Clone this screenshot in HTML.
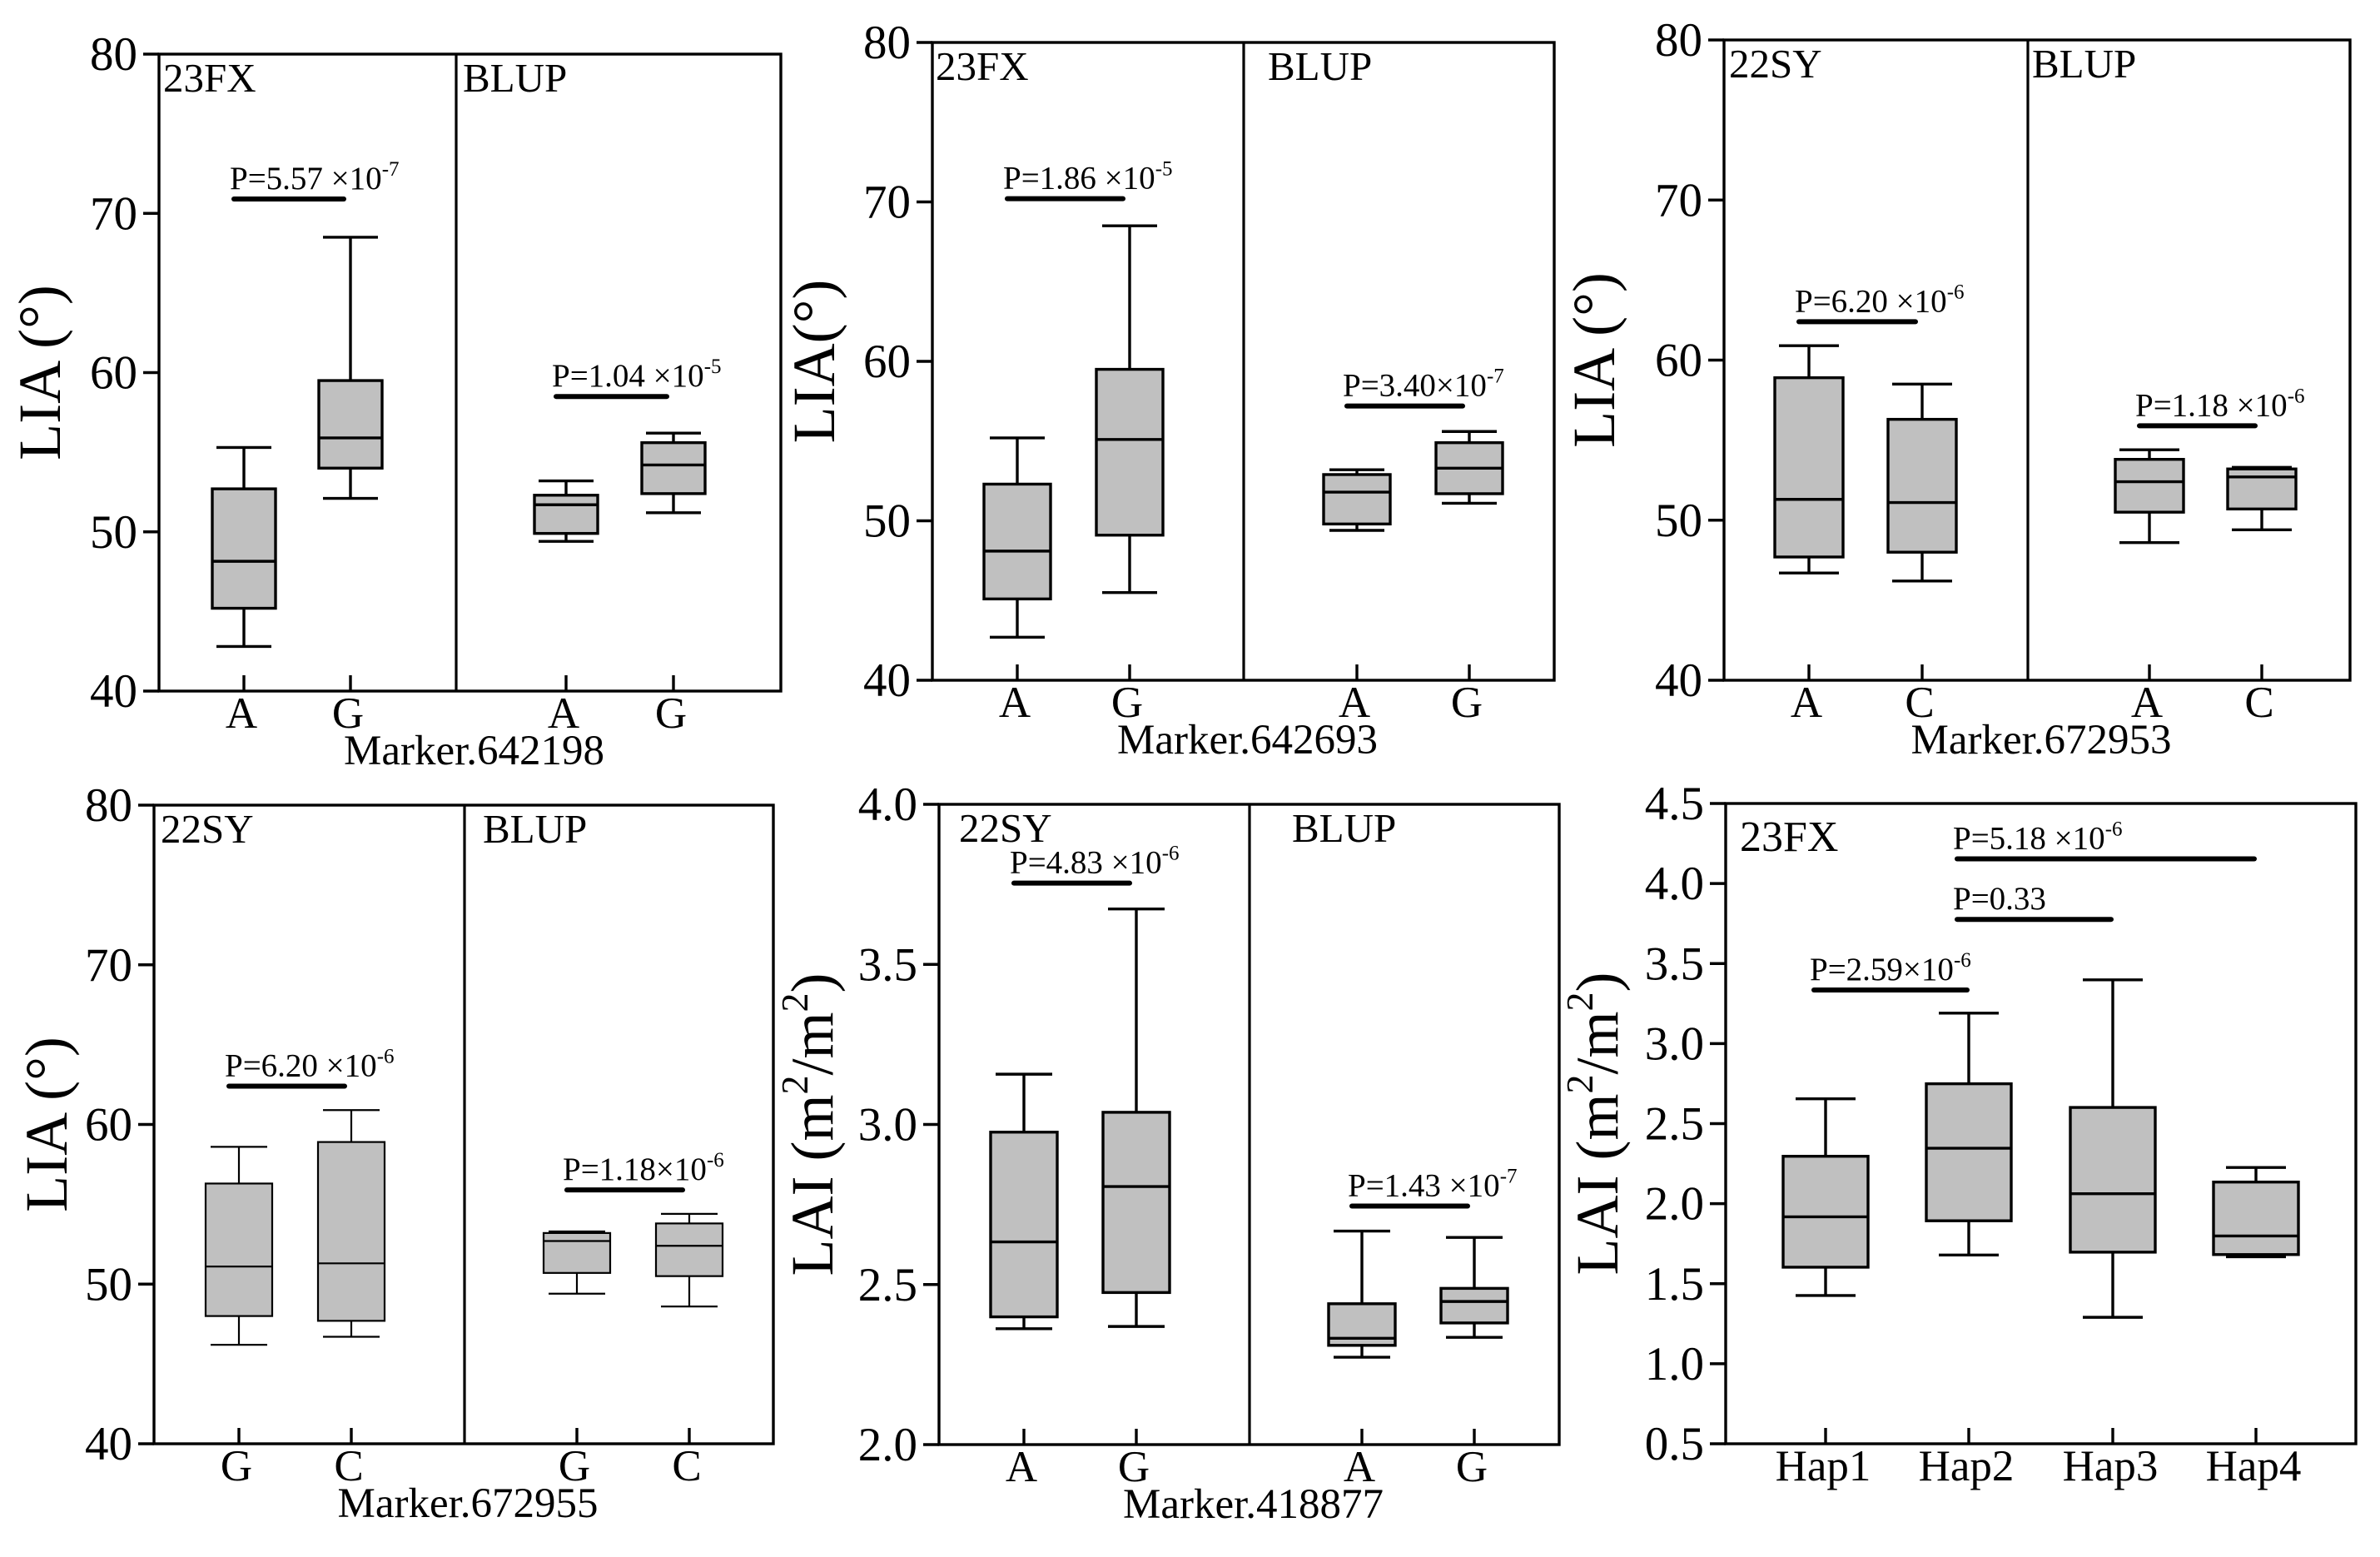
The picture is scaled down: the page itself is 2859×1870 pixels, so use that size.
<!DOCTYPE html>
<html><head><meta charset="utf-8"><style>
html,body{margin:0;padding:0;background:#fff;}
svg{display:block;font-family:"Liberation Serif","Times New Roman",serif;}
</style></head><body>
<svg id="fig" xmlns="http://www.w3.org/2000/svg" width="2859" height="1870" viewBox="0 0 2859 1870"></svg>
<script>
// ---------- data ----------
const p1Cats = ['A','G','A','G'];
const p1Box = [[42.8,45.2,48.15,52.7,55.3],[52.1,54.0,55.9,59.5,68.5],[49.4,49.9,51.7,52.3,53.2],[51.2,52.4,54.2,55.6,56.2]];
const p1PVal = [70.9,58.5];
const p1PText = [['P=5.57 ×10','-7'],['P=1.04 ×10','-5']];

const p2Cats = ['A','G','A','G'];
const p2Box = [[42.7,45.1,48.1,52.3,55.2],[45.5,49.1,55.1,59.5,68.5],[49.4,49.8,51.8,52.9,53.2],[51.1,51.7,53.3,54.9,55.6]];
const p2PVal = [70.2,57.2];
const p2PText = [['P=1.86 ×10','-5'],['P=3.40×10','-7']];

const p3Cats = ['A','C','A','C'];
const p3Box = [[46.7,47.7,51.3,58.9,60.9],[46.2,48.0,51.1,56.3,58.5],[48.6,50.5,52.4,53.8,54.4],[49.4,50.7,52.7,53.2,53.3]];
const p3PVal = [62.4,55.9];
const p3PText = [['P=6.20 ×10','-6'],['P=1.18 ×10','-6']];

const p4Cats = ['G','C','G','C'];
const p4Box = [[46.2,48.0,51.1,56.3,58.6],[46.7,47.7,51.3,58.9,60.9],[49.4,50.7,52.7,53.2,53.3],[48.6,50.5,52.4,53.8,54.4]];
const p4PVal = [62.4,55.9];
const p4PText = [['P=6.20 ×10','-6'],['P=1.18×10','-6']];

const p5Cats = ['A','G','A','G'];
const p5Box = [[2.362,2.399,2.633,2.976,3.157],[2.369,2.475,2.806,3.038,3.673],[2.273,2.31,2.332,2.44,2.667],[2.335,2.38,2.447,2.488,2.647]];
const p5PVal = [3.754,2.745];
const p5PText = [['P=4.83 ×10','-6'],['P=1.43 ×10','-7']];

const p6Cats = ['Hap1','Hap2','Hap3','Hap4'];
const p6Box = [[1.426,1.603,1.918,2.296,2.655],[1.679,1.893,2.346,2.749,3.19],[1.290,1.697,2.062,2.601,3.398],[1.668,1.682,1.798,2.135,2.226]];
const p6PVal = [3.335,3.776,4.154];
const p6PText = [['P=2.59×10','-6'],['P=0.33',''],['P=5.18 ×10','-6']];

const liaTicks = ['40','50','60','70','80'];
const laiTicks5 = ['2.0','2.5','3.0','3.5','4.0'];
const laiTicks6 = ['0.5','1.0','1.5','2.0','2.5','3.0','3.5','4.0','4.5'];

// ---------- layout ----------
const NS='http://www.w3.org/2000/svg';
const svg=document.getElementById('fig');
function mk(tag,attrs,parent){const e=document.createElementNS(NS,tag);for(const k in attrs)e.setAttribute(k,attrs[k]);(parent||svg).appendChild(e);return e;}

const panels=[
 {id:'p1',L:191,R:938,T:65,B:830,div:548,ymin:40,ymax:80,ticks:liaTicks,cats:p1Cats,box:p1Box,cx:[293,421,680,809],bw:38,cw:33,
  pv:p1PVal,pt:p1PText,pl:[[0,1],[2,3]],lab:['23FX','BLUP'],labx:[196,556],ylab:'LIA (°)',ylx:72,xlab:'Marker.642198',thin:false},
 {id:'p2',L:1120,R:1867,T:51,B:817,div:1494,ymin:40,ymax:80,ticks:liaTicks,cats:p2Cats,box:p2Box,cx:[1222,1357,1630,1765],bw:40,cw:33,
  pv:p2PVal,pt:p2PText,pl:[[0,1],[2,3]],lab:['23FX','BLUP'],labx:[1124,1523],ylab:'LIA(°)',ylx:1002,xlab:'Marker.642693',thin:false},
 {id:'p3',L:2071,R:2823,T:48,B:817,div:2436,ymin:40,ymax:80,ticks:liaTicks,cats:p3Cats,box:p3Box,cx:[2173,2309,2582,2717],bw:41,cw:36,
  pv:p3PVal,pt:p3PText,pl:[[0,1],[2,3]],lab:['22SY','BLUP'],labx:[2077,2441],ylab:'LIA (°)',ylx:1939,xlab:'Marker.672953',thin:false},
 {id:'p4',L:185,R:929,T:967,B:1734,div:558,ymin:40,ymax:80,ticks:liaTicks,cats:p4Cats,box:p4Box,cx:[287,422,693,828],bw:40,cw:34,
  pv:p4PVal,pt:p4PText,pl:[[0,1],[2,3]],lab:['22SY','BLUP'],labx:[193,580],ylab:'LIA (°)',ylx:80,xlab:'Marker.672955',thin:true},
 {id:'p5',L:1128,R:1873,T:966,B:1735,div:1501,ymin:2,ymax:4,ticks:laiTicks5,cats:p5Cats,box:p5Box,cx:[1230,1365,1636,1771],bw:40,cw:34,
  pv:p5PVal,pt:p5PText,pl:[[0,1],[2,3]],lab:['22SY','BLUP'],labx:[1152,1552],ylab:'LAI',ylx:1000,xlab:'Marker.418877',thin:false},
 {id:'p6',L:2073,R:2830,T:965,B:1734,div:null,ymin:0.5,ymax:4.5,ticks:laiTicks6,cats:p6Cats,box:p6Box,cx:[2193,2365,2538,2710],bw:51,cw:36,
  pv:p6PVal,pt:p6PText,pl:[[0,1],[1,2],[1,3]],lab:['23FX'],labx:[2090],ylab:'LAI',ylx:1943,xlab:'',thin:false}
];

panels.forEach(p=>{
  const g=mk('g',{});
  
  
  const y=v=>p.B-(v-p.ymin)/(p.ymax-p.ymin)*(p.B-p.T);
  const sw=p.thin?2.2:3.4;
  p.box.forEach((b,i)=>{
    const x=p.cx[i];
    const bg=mk('g',{},g);
    
    
    const st={stroke:'#000','stroke-width':sw};
    mk('line',Object.assign({x1:x,x2:x,y1:y(b[0]),y2:y(b[1])},st),bg);
    mk('line',Object.assign({x1:x,x2:x,y1:y(b[3]),y2:y(b[4])},st),bg);
    mk('line',Object.assign({x1:x-p.cw,x2:x+p.cw,y1:y(b[0]),y2:y(b[0])},st),bg);
    mk('line',Object.assign({x1:x-p.cw,x2:x+p.cw,y1:y(b[4]),y2:y(b[4])},st),bg);
    mk('rect',{x:x-p.bw,y:y(b[3]),width:2*p.bw,height:y(b[1])-y(b[3]),fill:'#c0c0c0',stroke:'#000','stroke-width':sw},bg);
    mk('line',Object.assign({x1:x-p.bw,x2:x+p.bw,y1:y(b[2]),y2:y(b[2])},st),bg);
  });
  const fr=mk('rect',{x:p.L,y:p.T,width:p.R-p.L,height:p.B-p.T,fill:'none',stroke:'#000','stroke-width':3.4},g);
  
  
  if(p.div!==null){
    const dv=mk('line',{x1:p.div,x2:p.div,y1:p.T,y2:p.B,stroke:'#000','stroke-width':3.2},g);
    
    
  }
  p.ticks.forEach((t,i)=>{
    const v=p.ymin+i*(p.ymax-p.ymin)/(p.ticks.length-1);
    const yy=y(v);
    mk('line',{x1:p.L-19,x2:p.L,y1:yy,y2:yy,stroke:'#000','stroke-width':3.4},g);
    const tx=mk('text',{x:p.L-26,y:yy+19,'text-anchor':'end','font-size':57},g);
    
    
    tx.textContent=t;
  });
  p.cats.forEach((c,i)=>{
    const x=p.cx[i];
    mk('line',{x1:x,x2:x,y1:p.B-19,y2:p.B,stroke:'#000','stroke-width':3.4},g);
    const tx=mk('text',{x:x-3,y:p.B+44,'text-anchor':'middle','font-size':53},g);
    
    
    tx.textContent=c;
  });
  p.pv.forEach((v,i)=>{
    const a=p.cx[p.pl[i][0]]-(p.id==='p6'?14:12), bb=p.cx[p.pl[i][1]]+(p.id==='p6'?-2:-8);
    const yy=y(v);
    const ln=mk('line',{x1:a,x2:bb,y1:yy,y2:yy,stroke:'#000','stroke-width':6,'stroke-linecap':'round'},g);
    
    
    const tx=mk('text',{x:a-5,y:yy-12,'font-size':39},g);
    
    
    const t1=mk('tspan',{},tx);t1.textContent=p.pt[i][0];
    if(p.pt[i][1]){const t2=mk('tspan',{dy:-16,'font-size':25},tx);t2.textContent=p.pt[i][1];}
  });
  p.lab.forEach((l,i)=>{
    const tx=mk('text',{x:p.labx[i],y:p.T+(p.id==='p6'?57:45),'font-size':p.id==='p6'?52:49},g);
    
    
    tx.textContent=l;
  });
  const cy=(p.T+p.B)/2;
  const yt=mk('text',{x:p.ylx,y:cy,'text-anchor':'middle','font-size':72,transform:'rotate(-90 '+p.ylx+' '+cy+')'},g);
  
  
  if(p.ylab==='LAI'){
    const a=mk('tspan',{},yt);a.textContent='LAI (m';
    const b=mk('tspan',{dy:-30,'font-size':46},yt);b.textContent='2';
    const c=mk('tspan',{dy:30},yt);c.textContent='/m';
    const d=mk('tspan',{dy:-30,'font-size':46},yt);d.textContent='2';
    const e=mk('tspan',{dy:30},yt);e.textContent=')';
  } else yt.textContent=p.ylab;
  if(p.xlab){
    const xt=mk('text',{x:(p.L+p.R)/2+5,y:p.B+88,'text-anchor':'middle','font-size':51},g);
    
    
    xt.textContent=p.xlab;
  }
});
</script>
</body></html>
